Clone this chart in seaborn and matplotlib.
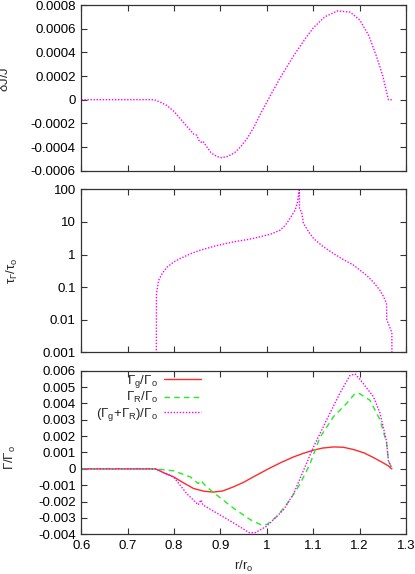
import matplotlib
matplotlib.use("Agg")
import matplotlib.pyplot as plt
import seaborn as sns
import numpy as np
import pandas as pd

# ---------------- data ----------------
r_dj = [0.60, 0.757, 0.77, 0.785, 0.80, 0.82, 0.842, 0.849, 0.853, 0.858, 0.862, 0.869,
        0.88, 0.892, 0.902, 0.915, 0.93, 0.943, 0.957, 0.971, 0.985, 1.0, 1.028, 1.0576,
        1.08, 1.1007, 1.125, 1.152, 1.18, 1.201, 1.22, 1.237, 1.25, 1.262, 1.270]
dj = [0.0, 0.0, -0.00002, -0.00005, -0.00010, -0.00019, -0.00029, -0.00030, -0.00034,
      -0.00036, -0.00035, -0.00039, -0.00045, -0.00048, -0.00049, -0.00048, -0.00045,
      -0.00040, -0.00033, -0.00024, -0.00013, -0.00002, 0.00018, 0.00037, 0.00050,
      0.00061, 0.00070, 0.00075, 0.00074, 0.00067, 0.00054, 0.00036, 0.00020, 0.0, 0.0]

r_tau = [0.7615, 0.762, 0.7667, 0.775, 0.785, 0.80, 0.813, 0.835, 0.856, 0.89, 0.928,
         0.96, 0.986, 1.01, 1.029, 1.04, 1.050, 1.061, 1.066, 1.070, 1.0705, 1.075,
         1.079, 1.09, 1.1007, 1.12, 1.1437, 1.165, 1.187, 1.215, 1.23, 1.244, 1.252,
         1.258, 1.2585, 1.265, 1.2695, 1.270]
tau = [1e-5, 0.063, 0.16, 0.27, 0.41, 0.6, 0.75, 1.05, 1.35, 1.85, 2.44,
       2.9, 3.5, 4.3, 5.6, 8.0, 12.8, 23.0, 40.0, 95.0, 25.0, 20.0,
       9.0, 5.0, 3.1, 1.8, 1.07, 0.7, 0.47, 0.23, 0.14, 0.079, 0.05,
       0.031, 0.01, 0.0059, 0.004, 1e-5]

r_g = [0.60, 0.76, 0.78, 0.799, 0.82, 0.842, 0.865, 0.885, 0.905, 0.928, 0.95, 0.971,
       1.003, 1.03, 1.0576, 1.08, 1.10, 1.12, 1.144, 1.165, 1.187, 1.21, 1.23, 1.25,
       1.262, 1.269]
gam_g = [0.0, 0.0, -0.00027, -0.00049, -0.00085, -0.0012, -0.00137, -0.00142, -0.00135,
         -0.0011, -0.00082, -0.00049, 0.0, 0.00038, 0.00073, 0.00096, 0.00114, 0.00127,
         0.00134, 0.00132, 0.00118, 0.00097, 0.00069, 0.00038, 0.00018, 0.0]

r_R = [0.60, 0.76, 0.799, 0.835, 0.852, 0.858, 0.862, 0.870, 0.892, 0.928, 0.964, 0.988,
       1.00, 1.022, 1.05, 1.072, 1.093, 1.114, 1.144, 1.172, 1.19, 1.20, 1.222, 1.244,
       1.258, 1.262, 1.270]
gam_R = [0.0, 0.0, -0.00012, -0.00049, -0.0009, -0.0007, -0.00085, -0.0011, -0.0016,
         -0.0024, -0.0031, -0.00343, -0.0034, -0.0029, -0.0019, -0.0009, 0.0003, 0.0019,
         0.0032, 0.0040, 0.0046, 0.0046, 0.0042, 0.0030, 0.0016, 0.0005, 0.0]

r_sum = [0.60, 0.76, 0.799, 0.827, 0.852, 0.858, 0.862, 0.892, 0.928, 0.962, 0.975,
         1.0, 1.036, 1.058, 1.079, 1.10, 1.129, 1.157, 1.179, 1.19, 1.20, 1.23, 1.244,
         1.258, 1.262, 1.270]
gam_sum = [0.0, 0.0, -0.0005, -0.0015, -0.0022, -0.0019, -0.0022, -0.0027, -0.0033,
           -0.0039, -0.0039, -0.0035, -0.0025, -0.0015, -0.0001, 0.0013, 0.0030, 0.0046,
           0.0057, 0.0058, 0.0055, 0.0044, 0.0034, 0.0017, 0.0005, 0.0]

x_ticks = [0.6, 0.7, 0.8, 0.9, 1.0, 1.1, 1.2, 1.3]
x_ticklabels = ["0.6", "0.7", "0.8", "0.9", "1", "1.1", "1.2", "1.3"]
dj_ticks = [-0.0006, -0.0004, -0.0002, 0, 0.0002, 0.0004, 0.0006, 0.0008]
dj_ticklabels = ["-0.0006", "-0.0004", "-0.0002", "0", "0.0002", "0.0004", "0.0006", "0.0008"]
tau_ticks = [0.001, 0.01, 0.1, 1, 10, 100]
tau_ticklabels = ["0.001", "0.01", "0.1", "1", "10", "100"]
gam_ticks = [-0.004, -0.003, -0.002, -0.001, 0, 0.001, 0.002, 0.003, 0.004, 0.005, 0.006]
gam_ticklabels = ["-0.004", "-0.003", "-0.002", "-0.001", "0", "0.001", "0.002",
                  "0.003", "0.004", "0.005", "0.006"]
legend_labels = [r"$\Gamma_g$/$\Gamma_o$", r"$\Gamma_R$/$\Gamma_o$",
                 r"($\Gamma_g$+$\Gamma_R$)/$\Gamma_o$"]

# ---------------- style ----------------
sns.set_theme(style="ticks")
plt.rcParams["font.family"] = ["Liberation Sans", "DejaVu Sans"]
plt.rcParams["mathtext.fontset"] = "custom"
plt.rcParams["mathtext.rm"] = "Liberation Sans"
plt.rcParams["mathtext.it"] = "Liberation Sans"
plt.rcParams["mathtext.bf"] = "Liberation Sans:bold"
plt.rcParams["axes.unicode_minus"] = False
plt.rcParams["font.size"] = 9.5

FS = 9.5
W, H = 415, 574
fig = plt.figure(figsize=(W / 100, H / 100), dpi=100)

def frac(left, top, right, bottom):
    return [left / W, 1 - bottom / H, (right - left) / W, (bottom - top) / H]

ax1 = fig.add_axes(frac(81.3, 5, 406, 170.7))
ax2 = fig.add_axes(frac(81.3, 189.3, 406, 352.3))
ax3 = fig.add_axes(frac(81.3, 370.7, 406, 534.3))

MAG = "#ff00ff"
RED = "#ff2a2a"
GRN = "#22ee22"
dotted = (0, (1, 1.2))
dashed = (0, (4, 3))

sns.lineplot(x=r_dj, y=dj, ax=ax1, color=MAG, linewidth=1.0, linestyle=dotted,
             sort=False, estimator=None)
sns.lineplot(x=r_tau, y=tau, ax=ax2, color=MAG, linewidth=1.0, linestyle=dotted,
             sort=False, estimator=None)
ax2.set_yscale("log")
sns.lineplot(x=r_g, y=gam_g, ax=ax3, color=RED, linewidth=1.0, linestyle="-",
             sort=False, estimator=None, label=legend_labels[0])
sns.lineplot(x=r_R, y=gam_R, ax=ax3, color=GRN, linewidth=1.0, linestyle=dashed,
             sort=False, estimator=None, label=legend_labels[1])
sns.lineplot(x=r_sum, y=gam_sum, ax=ax3, color=MAG, linewidth=1.0, linestyle=dotted,
             sort=False, estimator=None, label=legend_labels[2])

for ax in (ax1, ax2, ax3):
    ax.set_xlim(0.6, 1.3)
    ax.set_xticks(x_ticks)
    ax.tick_params(direction="in", length=4, width=0.8, top=True, right=True,
                   labelsize=FS, colors="#333333", labelcolor="black", pad=4)
    ax.tick_params(which="minor", left=False, right=False, bottom=False, top=False)
    for s in ax.spines.values():
        s.set_linewidth(0.9)
        s.set_color("#333333")
        s.set_visible(True)
    ax.set_xlabel("")

ax1.set_xticklabels([])
ax2.set_xticklabels([])
ax3.set_xticklabels(x_ticklabels)

ax1.set_ylim(-0.0006, 0.0008)
ax1.set_yticks(dj_ticks)
ax1.set_yticklabels(dj_ticklabels)
ax2.set_ylim(0.001, 100)
ax2.set_yticks(tau_ticks)
ax2.set_yticklabels(tau_ticklabels)
ax3.set_ylim(-0.004, 0.006)
ax3.set_yticks(gam_ticks)
ax3.set_yticklabels(gam_ticklabels)

ax1.set_ylabel(r"$\delta$J/J", fontsize=FS)
ax2.set_ylabel(r"$\tau_\Gamma$/$\tau_o$", fontsize=FS)
ax3.set_ylabel(r"$\Gamma$/$\Gamma_o$", fontsize=FS)
ax1.yaxis.set_label_coords(-0.215, 0.55)
ax2.yaxis.set_label_coords(-0.19, 0.5)
ax3.yaxis.set_label_coords(-0.196, 0.47)
ax3.set_xlabel(r"r/r$_o$", fontsize=FS)
ax3.xaxis.set_label_coords(0.5, -0.15)

leg = ax3.legend(loc="upper right", bbox_to_anchor=(0.378, 1.005), frameon=False,
                 markerfirst=False, fontsize=FS, handlelength=2.8, handletextpad=0.5,
                 labelspacing=0.05, borderaxespad=0, borderpad=0.2)
for t in leg.get_texts():
    t.set_ha("right")

fig.savefig("out.png", dpi=100)
